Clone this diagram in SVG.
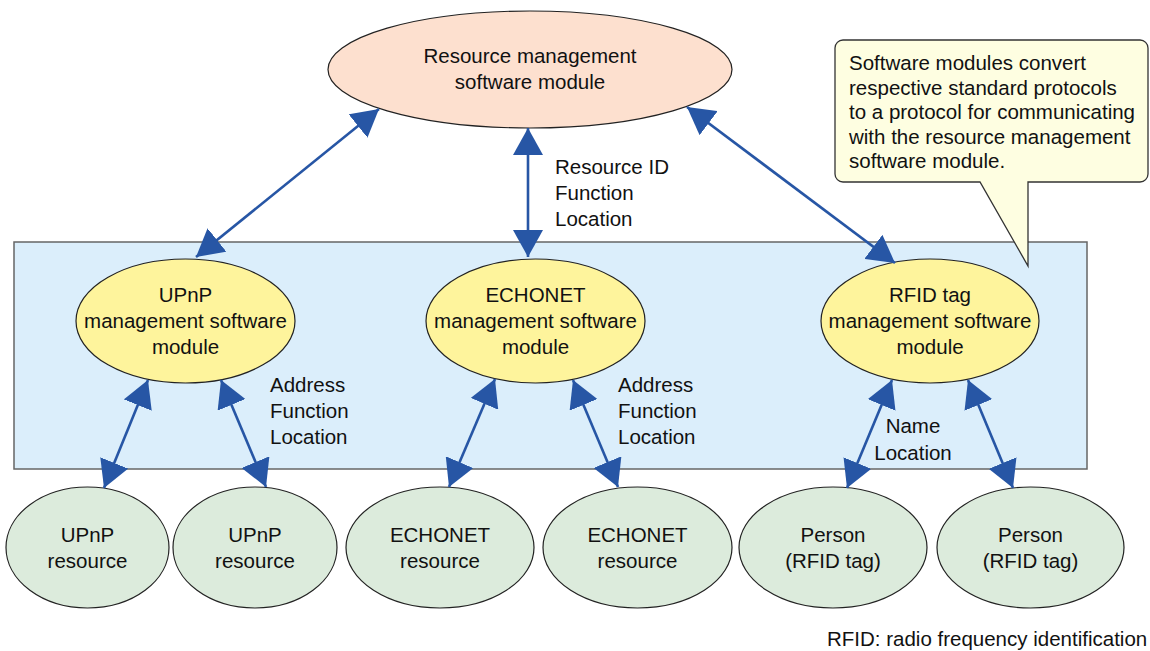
<svg xmlns="http://www.w3.org/2000/svg" width="1150" height="651" viewBox="0 0 1150 651">
  <style>
    text { font-family: "Liberation Sans", Arial, sans-serif; font-size: 20.5px; fill: #111; }
    .c { text-anchor: middle; }
    .top { fill: #fde0cf; stroke: #222; stroke-width: 1.2; }
    .mgr { fill: #fef49c; stroke: #222; stroke-width: 1.2; }
    .res { fill: #dcebdc; stroke: #222; stroke-width: 1.2; }
    .link { stroke: #2756a5; stroke-width: 2.6; fill: none; marker-start: url(#head); marker-end: url(#head); }
  </style>
  <defs>
    <marker id="head" viewBox="0 0 27 30" refX="27" refY="15" markerWidth="27" markerHeight="30" markerUnits="userSpaceOnUse" orient="auto-start-reverse">
      <path d="M0,0 L27,15 L0,30 Z" fill="#2756a5"/>
    </marker>
  </defs>
  <rect width="1150" height="651" fill="#ffffff"/>

  <!-- software module layer -->
  <rect id="module-layer" x="14" y="242" width="1073" height="227" fill="#dbeefb" stroke="#666" stroke-width="1.5"/>

  <!-- callout -->
  <g id="note">
    <path d="M843,40 H1140 A8,8 0 0 1 1148,48 V174 A8,8 0 0 1 1140,182 H1028 V266 L980,182 H843 A8,8 0 0 1 835,174 V48 A8,8 0 0 1 843,40 Z" fill="#fefee1" stroke="#333" stroke-width="1.3"/>
    <text x="849" y="70">Software modules convert</text>
    <text x="849" y="95">respective standard protocols</text>
    <text x="849" y="119">to a protocol for communicating</text>
    <text x="849" y="144">with the resource management</text>
    <text x="849" y="168">software module.</text>
  </g>

  <g id="resource-manager">
    <ellipse class="top" cx="530" cy="69.5" rx="202" ry="58.5"/>
    <text class="c" x="530" y="63">Resource management</text>
    <text class="c" x="530" y="89">software module</text>
  </g>

  <g id="upnp-manager">
    <ellipse class="mgr" cx="185.5" cy="321" rx="109.5" ry="62"/>
    <text class="c" x="185.5" y="302">UPnP</text>
    <text class="c" x="185.5" y="328">management software</text>
    <text class="c" x="185.5" y="354">module</text>
  </g>

  <g id="echonet-manager">
    <ellipse class="mgr" cx="535.5" cy="321" rx="109.5" ry="62"/>
    <text class="c" x="535.5" y="302">ECHONET</text>
    <text class="c" x="535.5" y="328">management software</text>
    <text class="c" x="535.5" y="354">module</text>
  </g>

  <g id="rfid-manager">
    <ellipse class="mgr" cx="930" cy="321" rx="109" ry="62"/>
    <text class="c" x="930" y="302">RFID tag</text>
    <text class="c" x="930" y="328">management software</text>
    <text class="c" x="930" y="354">module</text>
  </g>

  <g id="upnp-resource-1">
    <ellipse class="res" cx="87.5" cy="547.5" rx="81.5" ry="60.5"/>
    <text class="c" x="87.5" y="542">UPnP</text>
    <text class="c" x="87.5" y="568">resource</text>
  </g>
  <g id="upnp-resource-2">
    <ellipse class="res" cx="255" cy="547.5" rx="82" ry="60.5"/>
    <text class="c" x="255" y="542">UPnP</text>
    <text class="c" x="255" y="568">resource</text>
  </g>
  <g id="echonet-resource-1">
    <ellipse class="res" cx="440" cy="547.5" rx="94" ry="60.5"/>
    <text class="c" x="440" y="542">ECHONET</text>
    <text class="c" x="440" y="568">resource</text>
  </g>
  <g id="echonet-resource-2">
    <ellipse class="res" cx="637.5" cy="547.5" rx="94.5" ry="60.5"/>
    <text class="c" x="637.5" y="542">ECHONET</text>
    <text class="c" x="637.5" y="568">resource</text>
  </g>
  <g id="person-1">
    <ellipse class="res" cx="833" cy="547.5" rx="94" ry="60.5"/>
    <text class="c" x="833" y="542">Person</text>
    <text class="c" x="833" y="568">(RFID tag)</text>
  </g>
  <g id="person-2">
    <ellipse class="res" cx="1030.5" cy="547.5" rx="93.5" ry="60.5"/>
    <text class="c" x="1030.5" y="542">Person</text>
    <text class="c" x="1030.5" y="568">(RFID tag)</text>
  </g>

  <!-- connectors -->
  <g id="connectors">
    <line class="link" x1="379" y1="109" x2="196" y2="257"/>
    <line class="link" x1="528" y1="128" x2="528" y2="257"/>
    <line class="link" x1="687" y1="107" x2="895" y2="263"/>
    <line class="link" x1="148" y1="380" x2="104" y2="488"/>
    <line class="link" x1="221" y1="380" x2="266" y2="487"/>
    <line class="link" x1="495" y1="379" x2="449" y2="487"/>
    <line class="link" x1="573" y1="380" x2="618" y2="487"/>
    <line class="link" x1="892" y1="380" x2="847" y2="488"/>
    <line class="link" x1="968" y1="380" x2="1013" y2="488"/>
  </g>

  <!-- connector labels -->
  <g id="labels">
    <text x="555" y="174">Resource ID</text>
    <text x="555" y="200">Function</text>
    <text x="555" y="226">Location</text>
    <text x="270" y="392">Address</text>
    <text x="270" y="418">Function</text>
    <text x="270" y="444">Location</text>
    <text x="618" y="392">Address</text>
    <text x="618" y="418">Function</text>
    <text x="618" y="444">Location</text>
    <text class="c" x="913" y="433">Name</text>
    <text class="c" x="913" y="460">Location</text>
  </g>

  <text x="827" y="646">RFID: radio frequency identification</text>
</svg>
